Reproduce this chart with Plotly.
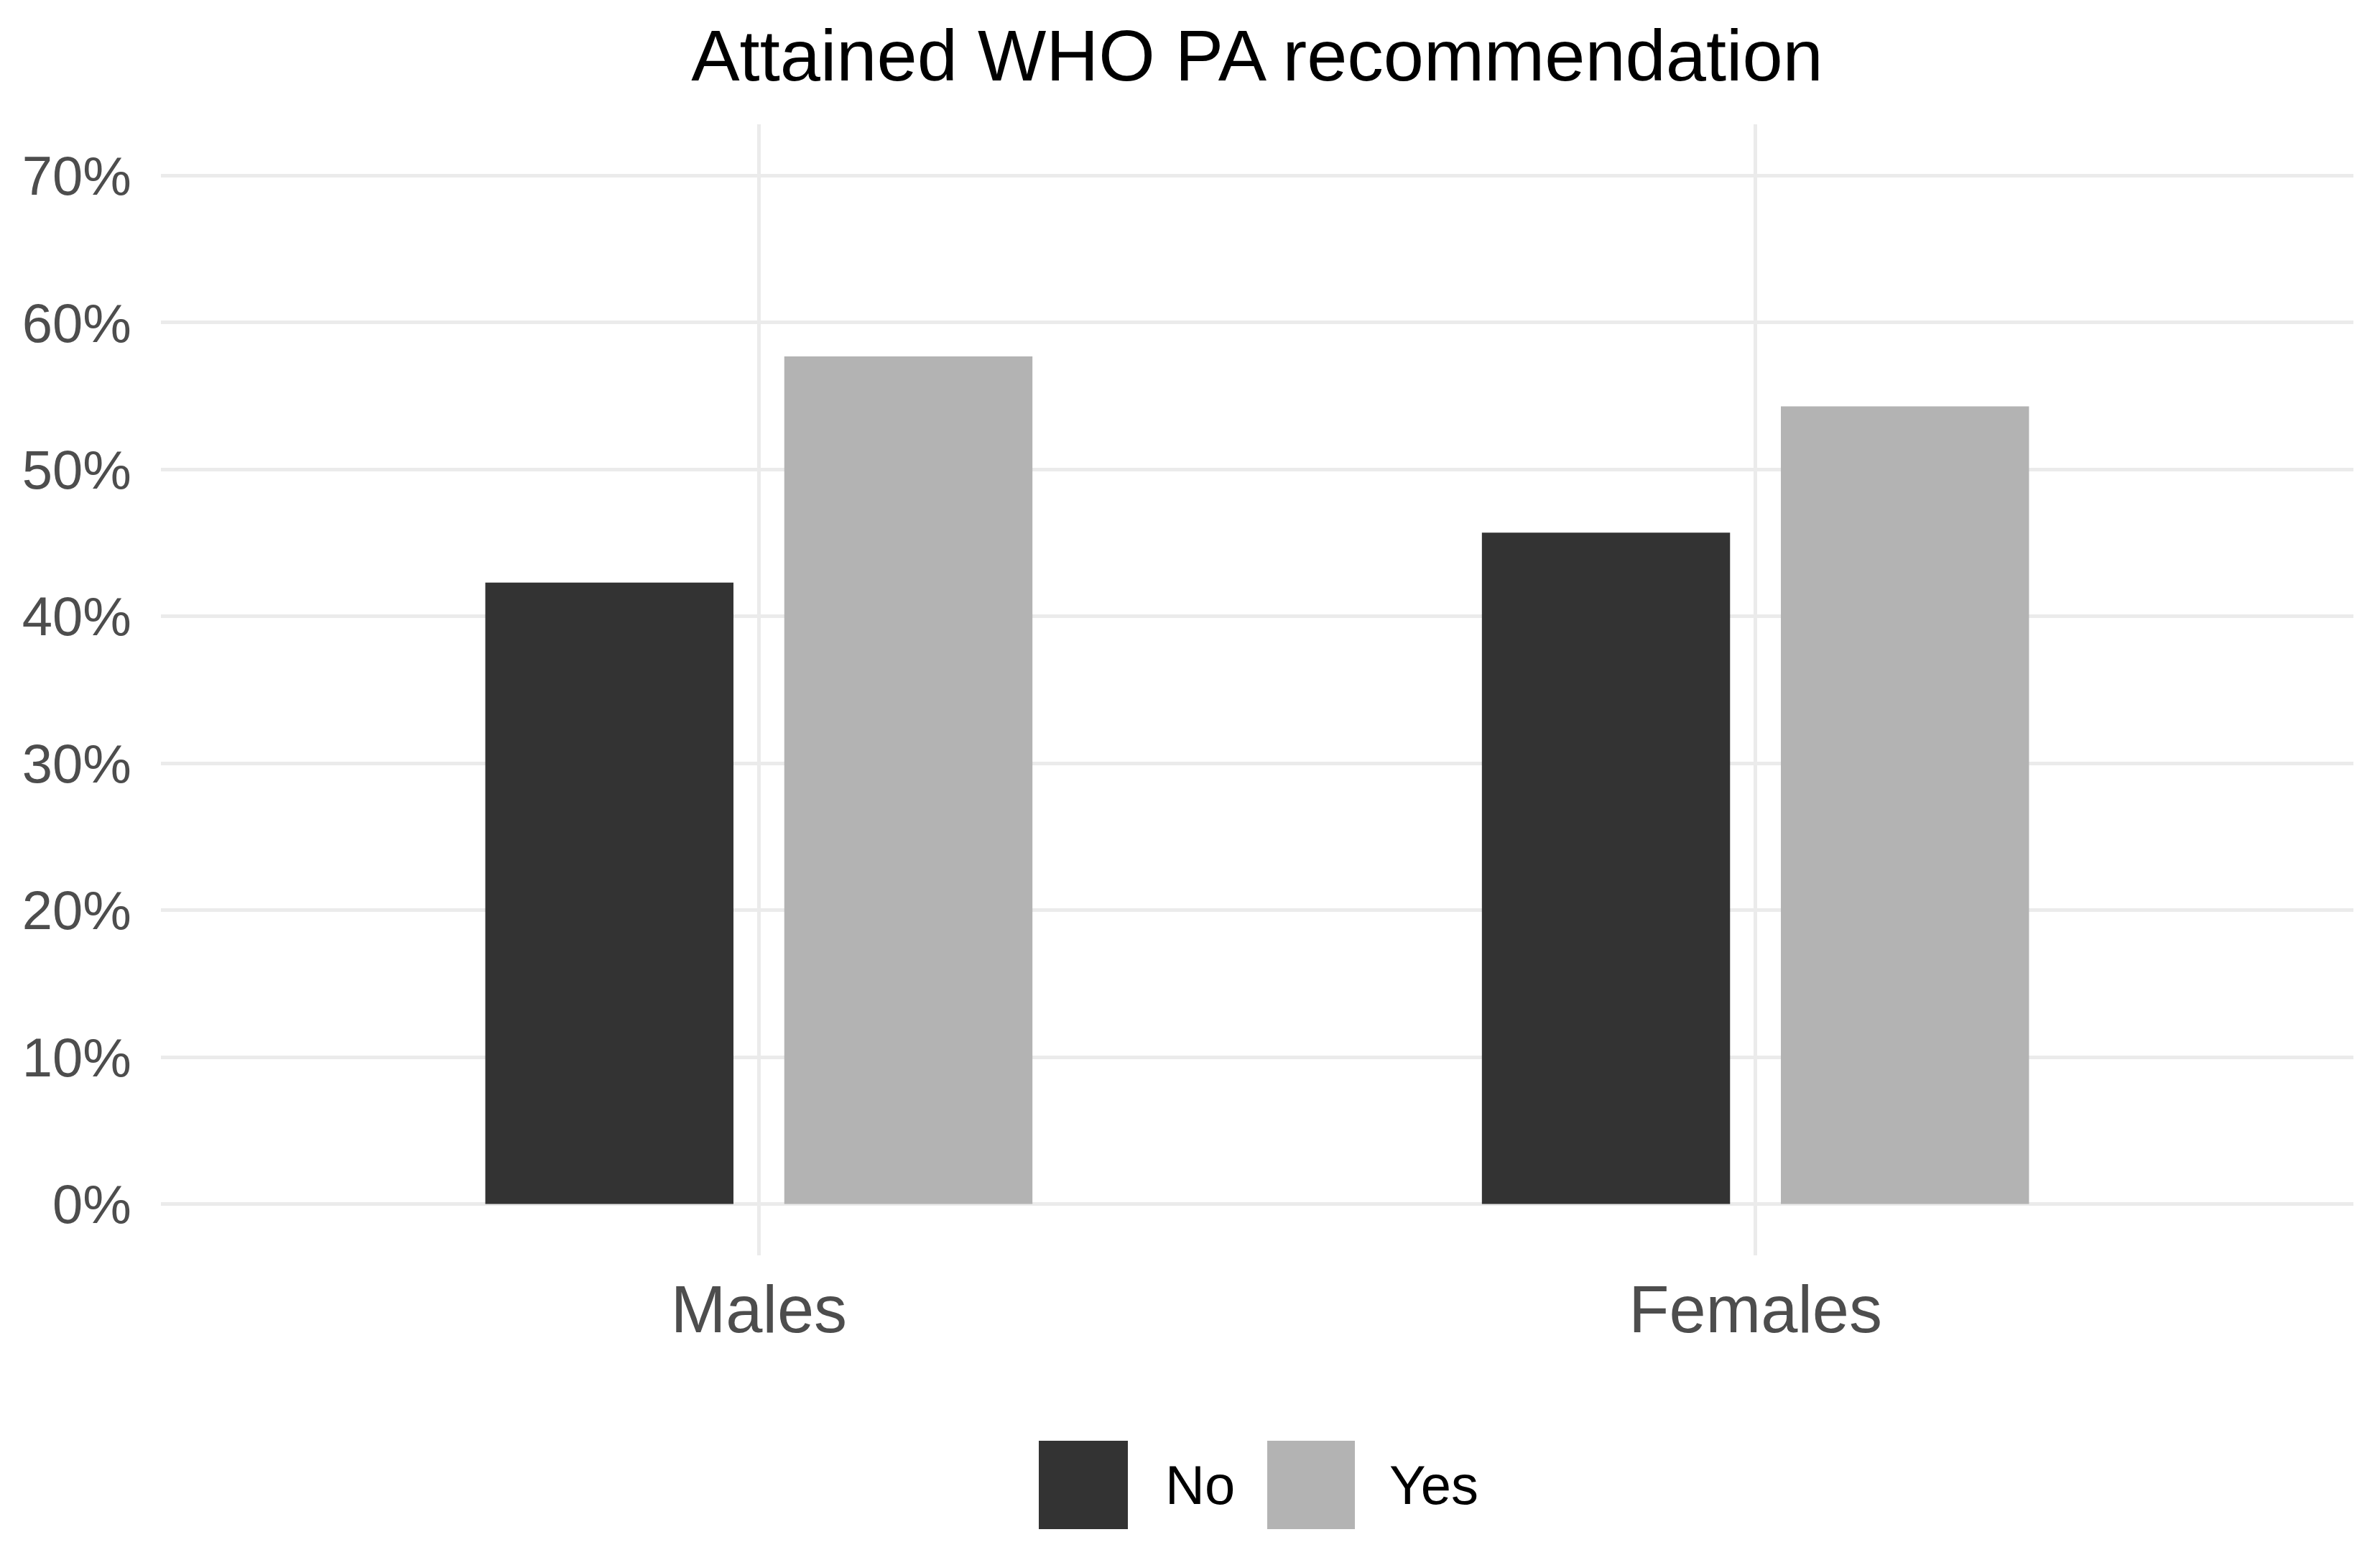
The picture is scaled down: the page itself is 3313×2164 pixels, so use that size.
import plotly.graph_objects as go

# ---- data ----
categories = ["Males", "Females"]
series_names = ["No", "Yes"]
no_values = [42.3, 45.7]
yes_values = [57.7, 54.3]
y_tick_values = [0, 10, 20, 30, 40, 50, 60, 70]
y_tick_labels = ["0%", "10%", "20%", "30%", "40%", "50%", "60%", "70%"]
title_text = "Attained WHO PA recommendation"

colors = {"No": "#333333", "Yes": "#B3B3B3"}
FONT = "Liberation Sans, Arial, sans-serif"

W, H = 3313, 2164
ML, MR, MT, MB = 224, 37, 173, 417
PW = W - ML - MR
PH = H - MT - MB

fig = go.Figure()
for name, vals in zip(series_names, [no_values, yes_values]):
    fig.add_trace(go.Bar(
        x=categories, y=vals, name=name,
        marker=dict(color=colors[name], line=dict(width=0)),
        showlegend=False,
    ))

fig.update_layout(
    width=W, height=H,
    margin=dict(l=ML, r=MR, t=MT, b=MB, pad=0),
    paper_bgcolor="white", plot_bgcolor="white",
    barmode="group", bargap=0.4, bargroupgap=0.17,
    font=dict(family=FONT, color="#4D4D4D"),
    title=dict(text=title_text, x=0.5, xref="paper", xanchor="center",
               y=1 - 77 / H, yref="container", yanchor="middle",
               font=dict(size=101, color="black", family=FONT)),
    xaxis=dict(range=[-0.6, 1.6], showgrid=True, gridcolor="#EBEBEB", gridwidth=5,
               zeroline=False, showline=False, ticks="",
               ticklabelstandoff=14,
               tickfont=dict(size=92, color="#4D4D4D")),
    yaxis=dict(range=[-3.5, 73.5], tickvals=y_tick_values, ticktext=y_tick_labels,
               showgrid=True, gridcolor="#EBEBEB", gridwidth=5, zeroline=False,
               showline=False, ticks="outside", ticklen=25,
               tickcolor="rgba(0,0,0,0)", tickfont=dict(size=76, color="#4D4D4D")),
)

# manual legend (large keys like the reference)
def px_x(p):
    return (p - ML) / PW

def px_y(p):
    return (H - MB - p) / PH

legend_items = [("No", 1446, 1570, 1620), ("Yes", 1764, 1886, 1932)]
for name, x0, x1, tx in legend_items:
    fig.add_shape(type="rect", xref="paper", yref="paper",
                  x0=px_x(x0), x1=px_x(x1), y0=px_y(2128), y1=px_y(2005),
                  fillcolor=colors[name], line=dict(width=0))
    fig.add_annotation(text=name, xref="paper", yref="paper", x=px_x(tx), y=px_y(2066),
                       xanchor="left", yanchor="middle", showarrow=False,
                       font=dict(size=76, color="black", family=FONT))

fig.write_html("out.html", config={"displayModeBar": False},
               post_script="document.body.style.margin='0';")
